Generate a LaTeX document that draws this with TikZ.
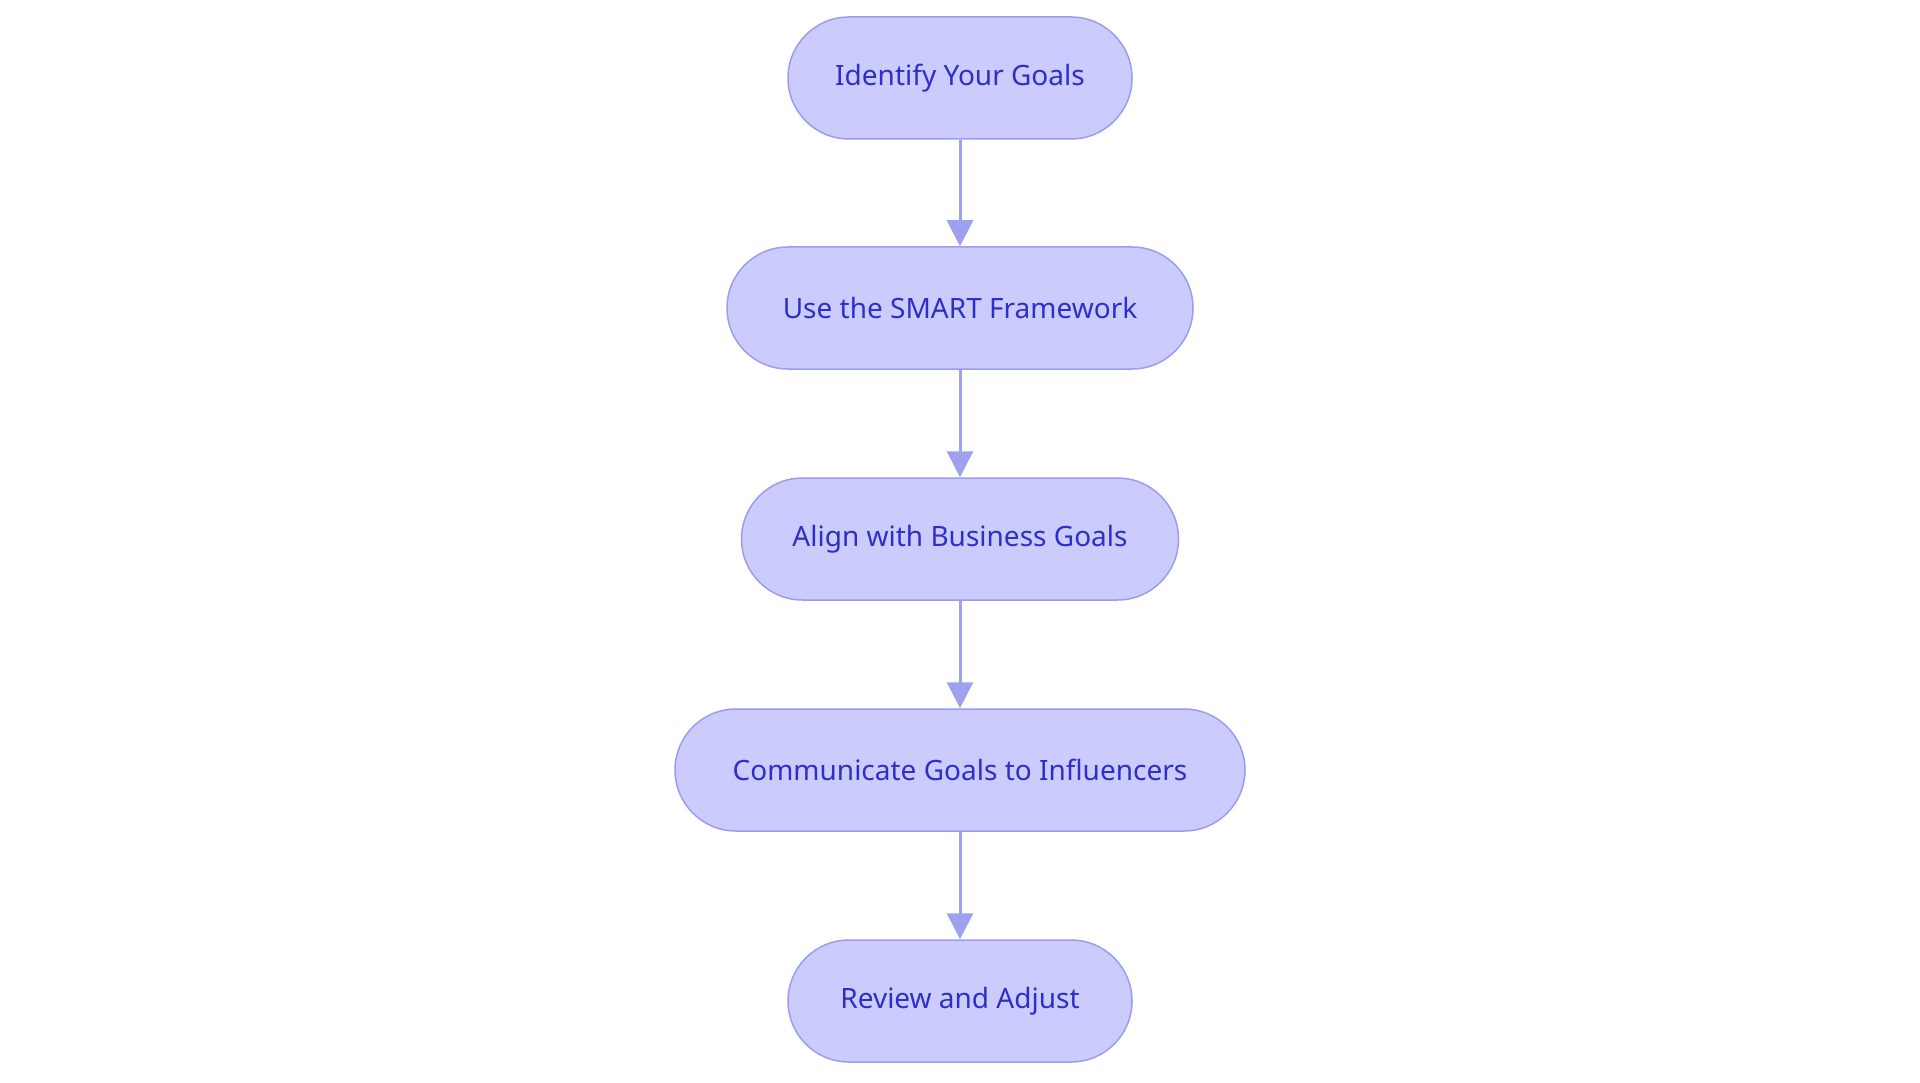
\documentclass[tikz,border=0pt]{standalone}
\usepackage{fontspec}
\setmainfont{Noto Sans}
\usetikzlibrary{arrows.meta}
\definecolor{nfill}{HTML}{CBCCFD}
\definecolor{nline}{HTML}{9A9DEE}
\definecolor{ntext}{HTML}{2D2FC8}
\definecolor{aline}{HTML}{9EA1F0}
\begin{document}
\begin{tikzpicture}[x=1pt,y=-1pt,
  box/.style={draw=nline,fill=nfill,line width=1.5pt,rounded corners=61pt,minimum height=122pt,text=ntext,font=\fontsize{28}{34}\selectfont,inner sep=0pt},
  arr/.style={draw=aline,line width=3pt,-{Triangle[length=26pt,width=26pt]}}]
\useasboundingbox (0,0) rectangle (1920,1083);
\node[box,minimum width=344pt] (a) at (960,78) {Identify Your Goals};
\node[box,minimum width=466pt] (b) at (960,308) {Use the SMART Framework};
\node[box,minimum width=437pt] (c) at (960,539) {Align with Business Goals};
\node[box,minimum width=570pt] (d) at (960,770) {Communicate Goals to Influencers};
\node[box,minimum width=344pt] (e) at (960,1001) {Review and Adjust};
\draw[arr] (a) -- (b);
\draw[arr] (b) -- (c);
\draw[arr] (c) -- (d);
\draw[arr] (d) -- (e);
\end{tikzpicture}
\end{document}
